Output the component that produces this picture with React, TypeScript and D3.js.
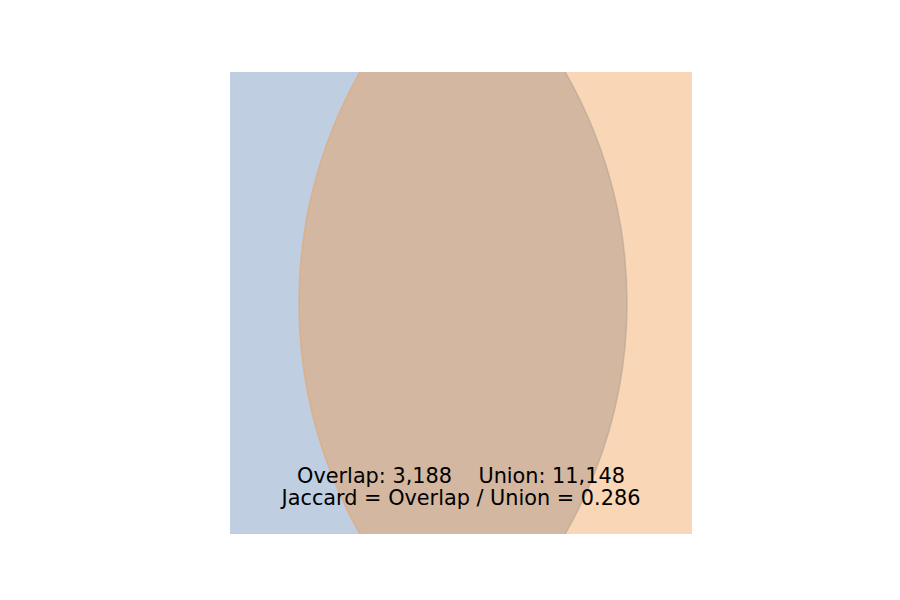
import React from "react";
import * as d3 from "d3";

const setNames = ["A", "B"];
const setSizes = [7065, 7271];
const overlap = 3188;
const union = setSizes[0] + setSizes[1] - overlap;
const colors = ["#bfcee0", "#f9d6b5"];
const lensColor = "#d3b7a0";

const W = 900, H = 600;
const ax = { x: 230, y: 72, w: 462, h: 462 };

export default function App() {
  const rad = d3.scaleSqrt().domain([0, setSizes[0]]).range([0, 461.3]);
  const r1 = rad(setSizes[0]);
  const r2 = rad(setSizes[1]);
  // layout: left edge of B at 299, right edge of A at 627
  const c1 = 627 - r1;
  const c2 = 299 + r2;
  const cy = ax.y + ax.h / 2;
  const fmt = d3.format(",");
  const cx = ax.x + ax.w / 2;
  return (
    <svg width={W} height={H} style={{ position: "absolute", left: 0, top: 0 }}>
      <defs>
        <clipPath id="axc"><rect x={ax.x} y={ax.y} width={ax.w} height={ax.h} /></clipPath>
        <clipPath id="c1c"><circle cx={c1} cy={cy} r={r1} /></clipPath>
      </defs>
      <g clipPath="url(#axc)">
        <circle cx={c1} cy={cy} r={r1} fill={colors[0]} />
        <circle cx={c2} cy={cy} r={r2} fill={colors[1]} />
        <g clipPath="url(#c1c)">
          <circle cx={c2} cy={cy} r={r2} fill={lensColor} />
        </g>
        <circle cx={c1} cy={cy} r={r1} fill="none" stroke="#b8a898" strokeWidth={1.5} opacity={0.7} />
        <circle cx={c2} cy={cy} r={r2} fill="none" stroke="#e0a878" strokeWidth={1.5} opacity={0.7} />
      </g>
      <g fontFamily="DejaVu Sans" fontSize={20.8} textAnchor="middle" fill="#000">
        <text x={cx} y={483} xmlSpace="preserve">{`Overlap: ${fmt(overlap)}    Union: ${fmt(union)}`}</text>
        <text x={cx} y={505}>{`Jaccard = Overlap / Union = ${(overlap / union).toFixed(3)}`}</text>
      </g>
    </svg>
  );
}
